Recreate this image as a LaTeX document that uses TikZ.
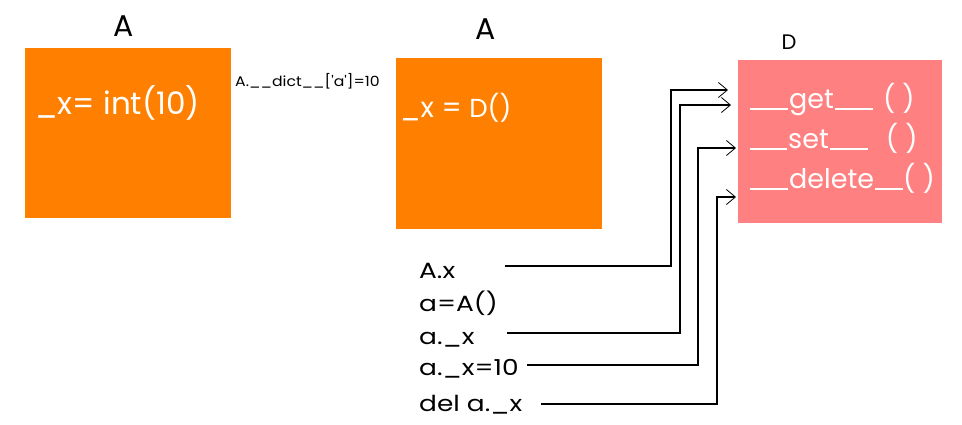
\documentclass[tikz,border=0pt]{standalone}
\usepackage{fontspec}
\setmainfont{Poppins}
\newfontfamily\codefont[FakeStretch=1.2]{Poppins}
\newfontfamily\midfont[FakeStretch=1.12]{Poppins}
\usetikzlibrary{arrows.meta}
\definecolor{orangebox}{HTML}{FF8000}
\definecolor{pinkbox}{HTML}{FF8080}
\newcommand\uline[1]{\rule[-1pt]{#1}{2pt}}
\tikzset{
  title/.style={font=\fontsize{30}{32}\selectfont, anchor=base},
  intext/.style={text=white, anchor=base west, inner sep=0pt},
  code/.style={font=\codefont\fontsize{22}{24}\selectfont, anchor=base west, inner sep=0pt},
  conn/.style={draw=black, line width=1.1pt, -{Straight Barb[length=9pt,width=15pt,line width=0.8pt]}},
}
\begin{document}
\begin{tikzpicture}[x=1pt,y=-1pt]
\useasboundingbox (0,0) rectangle (962,425);
% boxes
\fill[orangebox] (25,48) rectangle (231,218);
\fill[orangebox] (396,58) rectangle (602,229);
\fill[pinkbox] (738,60) rectangle (942,223);
% titles
\node[title] (t1) at (124,37) {A};
\node[title] (t2) at (486,40) {A};
\node[title, font=\fontsize{21}{23}\selectfont] (t3) at (789,50) {D};
% box texts
\node[intext, font=\fontsize{31}{33}\selectfont] (x1) at (35,115) {\_x= int(10)};
\node[intext, font=\fontsize{28}{30}\selectfont] (x2) at (400,118) {\_x = {\fontsize{26}{28}\selectfont D()}};
\node[intext, text=black, font=\midfont\fontsize{14}{16}\selectfont] (dict) at (235,87) {A.\_\_dict\_\_['a']=10};
\node[intext, font=\fontsize{27}{29}\selectfont] (get) at (750,109) {\uline{38pt}\kern1pt get\kern1pt\uline{38pt}\hspace{10pt}( )};
\node[intext, font=\fontsize{27}{29}\selectfont] (set) at (750,149) {\uline{37pt}\kern1pt set\kern1pt\uline{38pt}\hspace{18pt}( )};
\node[intext, font=\fontsize{27}{29}\selectfont] (del) at (750,189) {\uline{38pt}\kern1pt delete\kern1pt\uline{28pt}( )};
% code lines
\node[code] (c1) at (419,278) {A.x};
\node[code] (c2) at (419,311) {a=A()};
\node[code] (c3) at (419,344) {a.\_x};
\node[code] (c4) at (419,375) {a.\_x=10};
\node[code] (c5) at (419,411) {del a.\_x};
% connector end points
\coordinate (s1) at (505,266);
\coordinate (s2) at (507,333);
\coordinate (s3) at (527,365);
\coordinate (s4) at (541,404);
\coordinate (e1) at (728,90);
\coordinate (e2) at (731,105);
\coordinate (e3) at (736,148);
\coordinate (e4) at (736,197);
\draw[conn] (s1) -- (671,266) -- (671,90) -- (e1);
\draw[conn] (s2) -- (680,333) -- (680,105) -- (e2);
\draw[conn] (s3) -- (698,365) -- (698,148) -- (e3);
\draw[conn] (s4) -- (717,404) -- (717,197) -- (e4);
\end{tikzpicture}
\end{document}
